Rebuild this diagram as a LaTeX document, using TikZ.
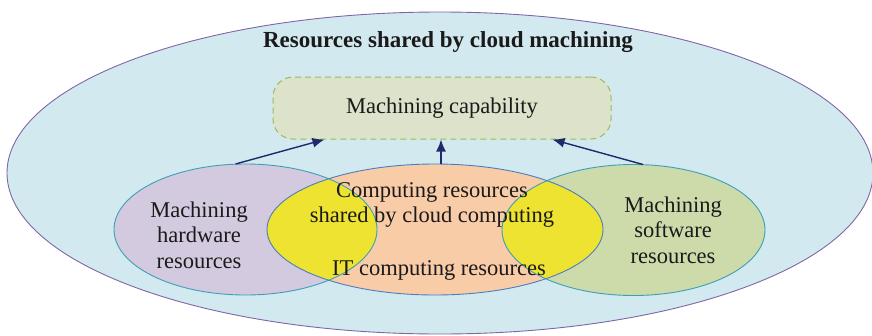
\documentclass[tikz,border=0pt]{standalone}
\usepackage{fontspec}
\setmainfont{Liberation Serif}
\usetikzlibrary{shapes.geometric,arrows.meta,calc}
\definecolor{outerfill}{HTML}{D3E9F0}
\definecolor{outerline}{HTML}{7E67A8}
\definecolor{capfill}{HTML}{DDE2CB}
\definecolor{capline}{HTML}{9BBB59}
\definecolor{hwfill}{HTML}{D3CAE0}
\definecolor{swfill}{HTML}{CDDBAB}
\definecolor{itfill}{HTML}{F9CCA8}
\definecolor{lensfill}{HTML}{EDE330}
\definecolor{tealline}{HTML}{3E9FB5}
\definecolor{blueline}{HTML}{4A7EC0}
\definecolor{arrowcol}{HTML}{1F2A6B}
\definecolor{txt}{HTML}{1A1A1A}
\begin{document}
\begin{tikzpicture}[x=1pt,y=-1pt,
  ell/.style={ellipse,inner sep=0pt,outer sep=0pt,line width=0.9pt},
  lbl/.style={align=center,text=txt,font=\fontsize{22.5}{25.5}\selectfont,inner sep=0pt},
  arr/.style={draw=arrowcol,line width=1.4pt,-{Latex[length=12pt,width=10pt]}},
  capbox/.style={rectangle,rounded corners=20pt,fill=capfill,draw=capline,dash pattern=on 6pt off 4pt,line width=1pt,
    minimum width=338pt,minimum height=62pt,inner sep=0pt,text=txt,font=\fontsize{22.5}{25.5}\selectfont}]
\useasboundingbox (0,0) rectangle (872,335);
\node[ell,fill=outerfill,draw=outerline,minimum width=866pt,minimum height=322pt] (outer) at (440,173) {};
\node[text=txt,font=\bfseries\fontsize{23}{26}\selectfont,inner sep=0pt] (title) at (448,42) {Resources shared by cloud machining};
\node[capbox] (cap) at (442,108) {Machining capability};
\node[ell,fill=hwfill,minimum width=263pt,minimum height=131pt] (hw) at (245.5,229.5) {};
\node[ell,fill=swfill,minimum width=263pt,minimum height=131pt] (sw) at (633.5,230) {};
\node[ell,fill=itfill,minimum width=336pt,minimum height=131pt] (it) at (435,229.5) {};
\begin{scope}
  \clip (hw.center) ellipse [x radius=131.5, y radius=65.5];
  \fill[lensfill] (it.center) ellipse [x radius=168, y radius=65.5];
\end{scope}
\begin{scope}
  \clip (sw.center) ellipse [x radius=131.5, y radius=65.5];
  \fill[lensfill] (it.center) ellipse [x radius=168, y radius=65.5];
\end{scope}
\draw[tealline,line width=0.9pt] (hw.center) ellipse [x radius=131.5, y radius=65.5];
\draw[tealline,line width=0.9pt] (sw.center) ellipse [x radius=131.5, y radius=65.5];
\draw[blueline,line width=0.9pt] (it.center) ellipse [x radius=168, y radius=65.5];
\coordinate (a1s) at ($(hw.north)+(-10,0)$);
\coordinate (a1e) at ($(cap.south west)+(52,0)$);
\coordinate (a2s) at ($(it.north)+(6,0)$);
\coordinate (a2e) at ($(cap.south)+(-1,0)$);
\coordinate (a3s) at ($(sw.north)+(9.5,0)$);
\coordinate (a3e) at ($(cap.south east)+(-59,0)$);
\draw[arr] (a1s) -- (a1e);
\draw[arr] (a2s) -- (a2e);
\draw[arr] (a3s) -- (a3e);
\node[lbl] (hwtxt) at (199,235) {Machining\\hardware\\resources};
\node[lbl] (swtxt) at (673,230) {Machining\\software\\resources};
\node[lbl] (cctxt) at (432,205) {Computing resources\\shared by cloud computing};
\node[lbl] (ittxt) at (439,270) {IT computing resources};
\end{tikzpicture}
\end{document}
